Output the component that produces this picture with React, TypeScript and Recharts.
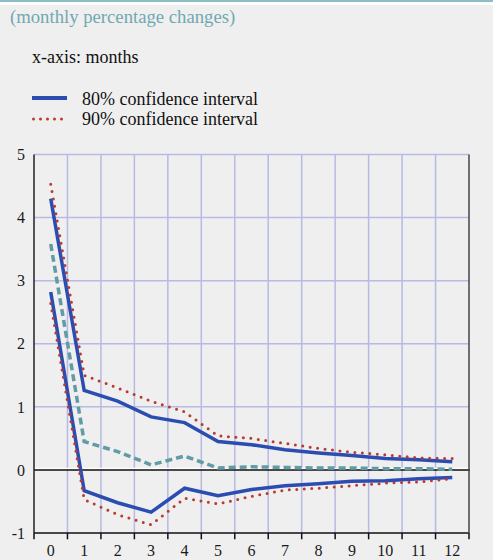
import React from 'react';
import { LineChart, Line, XAxis, YAxis, ReferenceLine } from 'recharts';

const months = [0, 1, 2, 3, 4, 5, 6, 7, 8, 9, 10, 11, 12];
const monthBounds = [-0.5, 0.5, 1.5, 2.5, 3.5, 4.5, 5.5, 6.5, 7.5, 8.5, 9.5, 10.5, 11.5, 12.5];
const yTicks = [-1, 0, 1, 2, 3, 4, 5];

const upper90 = [4.53, 1.5, 1.3, 1.09, 0.92, 0.54, 0.5, 0.42, 0.34, 0.28, 0.24, 0.19, 0.18];
const upper80 = [4.3, 1.26, 1.09, 0.84, 0.75, 0.45, 0.4, 0.32, 0.27, 0.23, 0.18, 0.16, 0.13];
const central = [3.58, 0.45, 0.29, 0.08, 0.22, 0.03, 0.05, 0.04, 0.03, 0.03, 0.02, 0.02, 0.01];
const lower80 = [2.82, -0.33, -0.52, -0.67, -0.29, -0.41, -0.31, -0.25, -0.22, -0.18, -0.17, -0.14, -0.12];
const lower90 = [2.64, -0.47, -0.71, -0.87, -0.45, -0.54, -0.42, -0.32, -0.29, -0.25, -0.21, -0.19, -0.14];

const data = months.map((m, i) => ({
  month: m,
  upper90: upper90[i],
  upper80: upper80[i],
  central: central[i],
  lower80: lower80[i],
  lower90: lower90[i],
}));

const FONT = 'Liberation Serif, Tinos, DejaVu Serif, serif';
const BLUE = '#2b4db2';
const RED = '#b93a2e';
const TEAL = '#609ba6';
const GRID = '#b7bae2';

const RightTick = (props: any) => (
  <text x={props.x + 23} y={props.y} dy="0.355em" textAnchor="end" fontSize={16} fontFamily={FONT} fill="#1a1a1a">
    {props.payload.value}
  </text>
);

const ZeroLine = (props: any) => (
  <g>
    <line x1={props.x1} x2={props.x2 + 1} y1={props.y1 - 1.5} y2={props.y2 - 1.5} stroke="#ffffff" strokeWidth={1.5} />
    <line x1={props.x1} x2={props.x2 + 1} y1={props.y1} y2={props.y2} stroke="#111" strokeWidth={1.5} />
  </g>
);

const textStyle = (left: number, top: number, color: string, size = 18): React.CSSProperties => ({
  position: 'absolute',
  left,
  top,
  fontSize: size,
  lineHeight: `${size}px`,
  color,
  whiteSpace: 'nowrap',
  fontFamily: FONT,
});

export default function App() {
  return (
    <div
      style={{
        position: 'absolute',
        left: 0,
        top: 0,
        width: 493,
        height: 560,
        background: '#efefef',
        fontFamily: FONT,
        overflow: 'hidden',
      }}
    >
      <div style={{ position: 'absolute', left: 0, top: 0, width: 493, height: 2, background: '#8dbec6' }} />
      <div style={{ position: 'absolute', left: 0, top: 2, width: 493, height: 2.5, background: '#ffffff' }} />
      <div style={textStyle(10, 8.3, '#6fa9b1', 18.7)}>(monthly percentage changes)</div>
      <div style={textStyle(32, 47.5, '#111')}>x-axis: months</div>
      <svg style={{ position: 'absolute', left: 0, top: 0 }} width={90} height={130}>
        <line x1={32} x2={67} y1={98} y2={98} stroke={BLUE} strokeWidth={4} />
        <line x1={33.5} x2={67} y1={119} y2={119} stroke={RED} strokeWidth={3} strokeLinecap="round" strokeDasharray="0 7" />
      </svg>
      <div style={textStyle(82, 89.5, '#111')}>80% confidence interval</div>
      <div style={textStyle(82, 110, '#111')}>90% confidence interval</div>
      <div style={{ position: 'absolute', left: 0, top: 0 }}>
        <LineChart width={493} height={560} data={data} margin={{ top: 154.5, right: 0, bottom: 0, left: 0 }}>
          <XAxis
            xAxisId="m"
            type="number"
            dataKey="month"
            domain={[-0.5, 12.5]}
            ticks={months}
            interval={0}
            axisLine={{ stroke: '#111', strokeWidth: 1.5 }}
            tickLine={false}
            tickSize={0}
            tickMargin={12}
            height={27}
            tick={{ fontSize: 16, fontFamily: FONT, fill: '#1a1a1a' }}
            allowDataOverflow
          />
          <YAxis
            yAxisId="l"
            domain={[-1, 5]}
            ticks={yTicks}
            width={34}
            axisLine={{ stroke: '#222', strokeWidth: 1.5 }}
            tickLine={false}
            tickSize={0}
            tickMargin={9}
            tick={{ fontSize: 16, fontFamily: FONT, fill: '#1a1a1a' }}
            interval={0}
          />
          <YAxis
            yAxisId="r"
            orientation="right"
            domain={[-1, 5]}
            ticks={yTicks}
            width={24}
            axisLine={{ stroke: '#444', strokeWidth: 1.5 }}
            tickLine={false}
            tickSize={0}
            tickMargin={0}
            tick={<RightTick />}
            interval={0}
          />
          {yTicks.filter((t) => t !== 0 && t !== -1).map((t) => (
            <ReferenceLine key={'h' + t} xAxisId="m" yAxisId="l" y={t} stroke={GRID} strokeWidth={1.5} />
          ))}
          {monthBounds.slice(1, -1).map((b) => (
            <ReferenceLine key={'v' + b} xAxisId="m" yAxisId="l" x={b} stroke={GRID} strokeWidth={1.5} />
          ))}
          {monthBounds.map((b) => (
            <ReferenceLine
              key={'t' + b}
              xAxisId="m"
              yAxisId="l"
              segment={[{ x: b, y: -1 }, { x: b, y: -1.1 }]}
              ifOverflow="visible"
              stroke="#111"
              strokeWidth={1.5}
            />
          ))}
          <ReferenceLine xAxisId="m" yAxisId="l" y={0} shape={<ZeroLine />} />
          <Line xAxisId="m" yAxisId="l" type="linear" dataKey="central" stroke={TEAL} strokeWidth={3.5} strokeDasharray="7 4" dot={false} isAnimationActive={false} />
          <Line xAxisId="m" yAxisId="l" type="linear" dataKey="upper80" stroke={BLUE} strokeWidth={3.5} dot={false} isAnimationActive={false} />
          <Line xAxisId="m" yAxisId="l" type="linear" dataKey="lower80" stroke={BLUE} strokeWidth={3.5} dot={false} isAnimationActive={false} />
          <Line xAxisId="m" yAxisId="l" type="linear" dataKey="upper90" stroke={RED} strokeWidth={3} strokeLinecap="round" strokeDasharray="0 7.5" dot={false} isAnimationActive={false} />
          <Line xAxisId="m" yAxisId="l" type="linear" dataKey="lower90" stroke={RED} strokeWidth={3} strokeLinecap="round" strokeDasharray="0 7.5" dot={false} isAnimationActive={false} />
        </LineChart>
      </div>
    </div>
  );
}
